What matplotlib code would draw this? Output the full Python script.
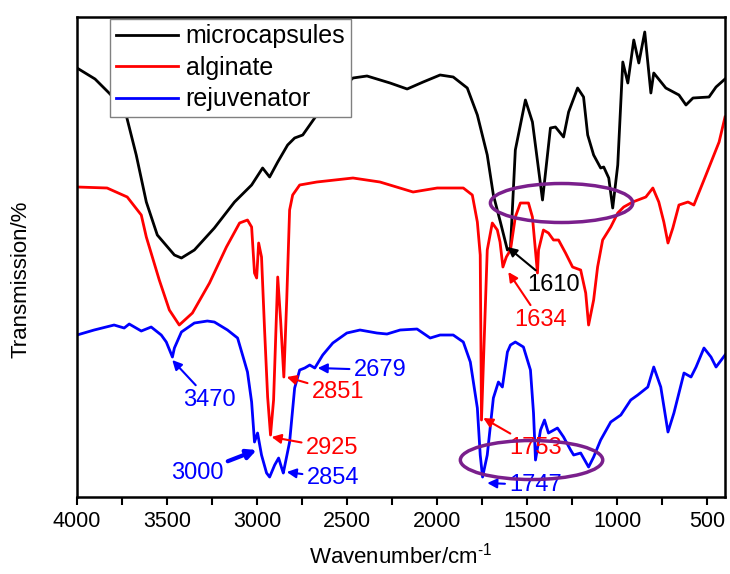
import matplotlib
matplotlib.use('Agg')
import matplotlib.pyplot as plt
from matplotlib.patches import Ellipse
from matplotlib.ticker import MultipleLocator

plt.rcParams['font.family'] = ['Liberation Sans', 'DejaVu Sans']
plt.rcParams['mathtext.fontset'] = 'custom'
plt.rcParams['mathtext.rm'] = 'Liberation Sans'

# spectra: wavenumber (cm-1) and transmission (arbitrary, offset)
wn_micro = [4000, 3900, 3822, 3760, 3727, 3671, 3615, 3554, 3459, 3420, 3348, 3237,
            3125, 3030, 2969, 2930, 2885, 2830, 2791, 2746, 2668, 2568, 2467, 2389,
            2261, 2166, 2077, 1983, 1910, 1832, 1776, 1721, 1687, 1648, 1609, 1592,
            1565, 1509, 1470, 1414, 1370, 1342, 1297, 1269, 1219, 1186, 1163, 1130,
            1091, 1074, 1046, 1024, 996, 968, 940, 907, 879, 846, 812, 796, 729, 656,
            617, 578, 489, 450, 400]
tr_micro = [429, 418, 404, 392, 382, 342, 295, 262, 242, 239, 247, 269,
            295, 312, 329, 320, 335, 352, 359, 362, 382, 402, 419, 421,
            414, 408, 415, 422, 420, 409, 382, 342, 302, 275, 247, 249,
            347, 397, 375, 297, 369, 370, 360, 385, 409, 400, 362, 342,
            329, 330, 319, 289, 332, 435, 414, 457, 434, 465, 404, 424, 409, 402,
            392, 399, 400, 410, 418]

wn_alg = [4000, 3833, 3721, 3643, 3615, 3543, 3487, 3432, 3359, 3264, 3170, 3097,
          3053, 3030, 3014, 3002, 2991, 2975, 2958, 2941, 2925, 2908, 2885, 2869,
          2851, 2835, 2819, 2802, 2763, 2668, 2467, 2317, 2133, 1999, 1854, 1804,
          1776, 1760, 1753, 1721, 1693, 1665, 1650, 1634, 1615, 1592, 1565, 1537,
          1492, 1470, 1442, 1436, 1409, 1381, 1353, 1325, 1286, 1247, 1202, 1174,
          1158, 1130, 1108, 1080, 1035, 996, 963, 913, 840, 801, 768, 740, 717,
          690, 656, 606, 573, 506, 433, 400]
tr_alg = [310, 309, 300, 282, 260, 217, 187, 172, 184, 214, 250, 274,
          277, 270, 224, 219, 254, 240, 167, 100, 62, 97, 220, 177,
          120, 197, 287, 302, 312, 315, 319, 315, 305, 309, 309, 302,
          275, 242, 77, 247, 274, 267, 255, 230, 240, 247, 280, 294,
          294, 280, 224, 247, 267, 264, 257, 257, 244, 230, 227, 204,
          172, 197, 230, 257, 270, 284, 290, 295, 300, 309, 295, 275, 254,
          269, 292, 295, 292, 322, 355, 380]

wn_rej = [4000, 3905, 3794, 3738, 3710, 3643, 3588, 3532, 3504, 3470, 3459, 3420,
          3348, 3276, 3237, 3164, 3108, 3069, 3053, 3030, 3014, 2997, 2975, 2947,
          2930, 2902, 2880, 2863, 2854, 2819, 2791, 2763, 2735, 2707, 2679, 2635,
          2579, 2501, 2428, 2334, 2278, 2205, 2111, 2038, 1983, 1910, 1854, 1815,
          1776, 1760, 1747, 1721, 1687, 1659, 1637, 1609, 1592, 1565, 1520, 1481,
          1464, 1453, 1425, 1403, 1381, 1331, 1297, 1258, 1241, 1202, 1158, 1130,
          1091, 1035, 979, 924, 885, 829, 796, 757, 717, 684, 628, 589, 561, 517,
          478, 450, 400]
tr_rej = [162, 167, 172, 169, 173, 166, 170, 162, 155, 140, 149, 165,
          174, 176, 175, 167, 159, 135, 125, 95, 55, 64, 42, 24,
          20, 32, 39, 29, 24, 55, 109, 127, 129, 132, 129, 142,
          154, 164, 167, 164, 163, 167, 168, 159, 162, 162, 155, 135,
          89, 42, 20, 42, 99, 115, 110, 145, 152, 155, 150, 127,
          84, 37, 67, 77, 64, 69, 60, 47, 42, 44, 30, 40,
          57, 75, 82, 97, 102, 110, 130, 110, 65, 84, 124, 120, 130, 149,
          140, 130, 142]

# peak labels: text, colour, text position, arrow tip
peak_labels = ['3470', '3000', '2925', '2851', '2854', '2679', '1753', '1747', '1610', '1634']
peak_colors = ['blue', 'blue', 'red', 'red', 'blue', 'blue', 'red', 'blue', 'black', 'red']
peak_text_xy = [(3264, 97), (3331, 24), (2584, 49), (2551, 105), (2579, 19),
                (2317, 127), (1453, 49), (1453, 12), (1353, 212), (1425, 177)]
peak_tip_xy = [(3471, 137), (3002, 47), (2919, 60), (2835, 120), (2835, 25),
               (2663, 129), (1743, 79), (1721, 14), (1609, 250), (1604, 225)]

fig = plt.figure(figsize=(7.3, 5.74), dpi=100)
ax = fig.add_axes([0.1055, 0.1341, 0.8877, 0.8363])

ax.plot(wn_micro, tr_micro, color='black', lw=2.0, label='microcapsules')
ax.plot(wn_alg, tr_alg, color='red', lw=2.0, label='alginate')
ax.plot(wn_rej, tr_rej, color='blue', lw=2.0, label='rejuvenator')

for label, col, txy, pxy in zip(peak_labels, peak_colors, peak_text_xy, peak_tip_xy):
    width = 3.0 if label == '3000' else 1.5
    ax.annotate(label, xy=pxy, xytext=txy, color=col, fontsize=17,
                ha='center', va='center',
                arrowprops=dict(arrowstyle='-|>', color=col, lw=width,
                                mutation_scale=14, shrinkA=1, shrinkB=0))

# highlight ellipses
for cx, cy in [(1308, 294), (1475, 37)]:
    ax.add_patch(Ellipse((cx, cy), width=791, height=39, fill=False,
                         edgecolor='#7a1f8c', lw=2.5, zorder=5))

ax.set_xlim(4000, 400)
ax.set_ylim(0, 480)
ax.xaxis.set_major_locator(MultipleLocator(500))
ax.xaxis.set_minor_locator(MultipleLocator(250))
ax.tick_params(axis='x', which='both', direction='out', length=6, width=1.5,
               labelsize=15.5, pad=4)
ax.tick_params(axis='y', left=False, labelleft=False)
for sp in ax.spines.values():
    sp.set_linewidth(1.8)

ax.set_xlabel('Wavenumber/cm$^{\\text{-1}}$', fontsize=16, labelpad=8)
ax.set_ylabel('Transmission/%', fontsize=16)
ax.yaxis.set_label_coords(-0.071, 0.454)

leg = ax.legend(loc='upper left', bbox_to_anchor=(0.051, 0.996), borderaxespad=0,
                fontsize=18, handlelength=2.5, handletextpad=0.3, labelspacing=0.3,
                borderpad=0.22, fancybox=False, framealpha=1, edgecolor='gray')
leg.get_frame().set_linewidth(1.0)

fig.savefig('out.png', dpi=100)
